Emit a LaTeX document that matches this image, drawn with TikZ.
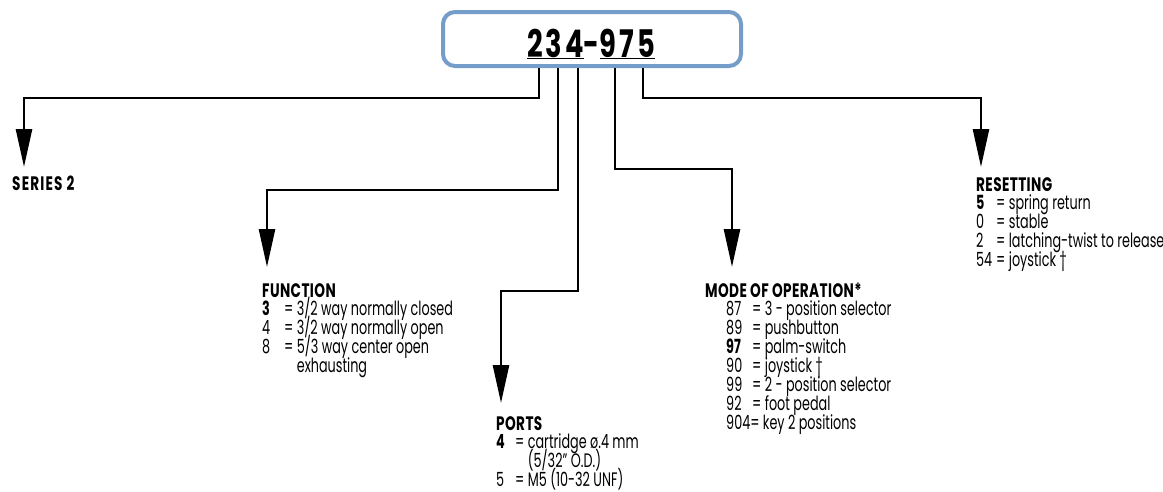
\documentclass[tikz,border=0pt]{standalone}
\usepackage{fontspec}
\setmainfont{Poppins}[FakeStretch=0.655]
\newfontfamily\ttlfam{Poppins}[FakeStretch=0.7,LetterSpace=2]
\newfontfamily\codefam{Poppins}[FakeStretch=0.72,LetterSpace=8]
\usetikzlibrary{arrows.meta}
\definecolor{hdrblue}{HTML}{749DC9}
\newcommand\bodyfont{\fontsize{19.5}{19}\selectfont}
\newcommand\ttlfont{\ttlfam\fontsize{19.5}{19}\selectfont\bfseries}
\newcommand\itm[3][22pt]{\makebox[#1][l]{#2}=\ #3}
\newcommand\cnt[2][22pt]{\makebox[#1][l]{}\phantom{=}\ #2}
\begin{document}
\begin{tikzpicture}[x=1pt,y=-1pt,
  conn/.style={line width=2.6pt,-{Triangle[length=38pt,width=16pt]}},
  ttl/.style={anchor=base west,inner sep=0pt,font=\ttlfont},
  lst/.style={anchor=base west,inner sep=0pt,font=\bodyfont},
  hdrbox/.style={draw=hdrblue,line width=4pt,rounded corners=12pt,minimum width=298pt,minimum height=54pt,inner sep=0pt,fill=white}]
\useasboundingbox (0,0) rectangle (1163,491);
% header
\node[hdrbox] (hdr) at (592,39) {};
\node[anchor=base,inner sep=0pt,font={\codefam\fontsize{38}{40}\selectfont\bfseries}] (code) at (591,57) {\underline{234}-\underline{975}};
% arrow tips
\coordinate (t1) at (24,167);
\coordinate (t2) at (267,267);
\coordinate (t3) at (501,403);
\coordinate (t4) at (732,267);
\coordinate (t5) at (981,167);
% connectors
\draw[conn] ([xshift=-53pt]hdr.south) -- ++(0,30) -| (t1);
\draw[conn] ([xshift=-34pt]hdr.south) -- ++(0,122) -| (t2);
\draw[conn] ([xshift=-14pt]hdr.south) -- ++(0,223) -| (t3);
\draw[conn] ([xshift=23pt]hdr.south) -- ++(0,101) -| (t4);
\draw[conn] ([xshift=51pt]hdr.south) -- ++(0,30) -| (t5);
% labels
\node[ttl] (series) at (12,190) {\addfontfeature{LetterSpace=6}SERIES 2};

\node[ttl] (func) at (262,297) {FUNCTION};
\node[lst] (func1) at (262,315) {\itm{\textbf{3}}{3/2 way normally closed}};
\node[lst] (func2) at (262,334) {\itm{4}{3/2 way normally open}};
\node[lst] (func3) at (262,353) {\itm{8}{5/3 way center open}};
\node[lst] (func4) at (262,372) {\cnt{exhausting}};

\node[ttl] (ports) at (496,430) {PORTS};
\node[lst] (ports1) at (496,448) {\itm[19pt]{\textbf{4}}{cartridge ø.4 mm}};
\node[lst] (ports2) at (496,467) {\cnt[19pt]{(5/32” O.D.)}};
\node[lst] (ports3) at (496,486) {\itm[19pt]{5}{M5 (10-32 UNF)}};

\node[ttl] (mode) at (705,297) {MODE OF OPERATION*};
\node[lst] (mode1) at (726,315) {\itm[26pt]{87}{3 - position selector}};
\node[lst] (mode2) at (726,334) {\itm[26pt]{89}{pushbutton}};
\node[lst] (mode3) at (726,353) {\itm[26pt]{\textbf{97}}{palm-switch}};
\node[lst] (mode4) at (726,372) {\itm[26pt]{90}{joystick †}};
\node[lst] (mode5) at (726,391) {\itm[26pt]{99}{2 - position selector}};
\node[lst] (mode6) at (726,410) {\itm[26pt]{92}{foot pedal}};
\node[lst] (mode7) at (726,429) {904=\ key 2 positions};

\node[ttl] (reset) at (976,191) {RESETTING};
\node[lst] (reset1) at (976,209) {\itm[20pt]{\textbf{5}}{spring return}};
\node[lst] (reset2) at (976,228) {\itm[20pt]{0}{stable}};
\node[lst] (reset3) at (976,247) {\itm[20pt]{2}{latching-twist to release}};
\node[lst] (reset4) at (976,266) {\itm[20pt]{54}{joystick †}};
\end{tikzpicture}
\end{document}
